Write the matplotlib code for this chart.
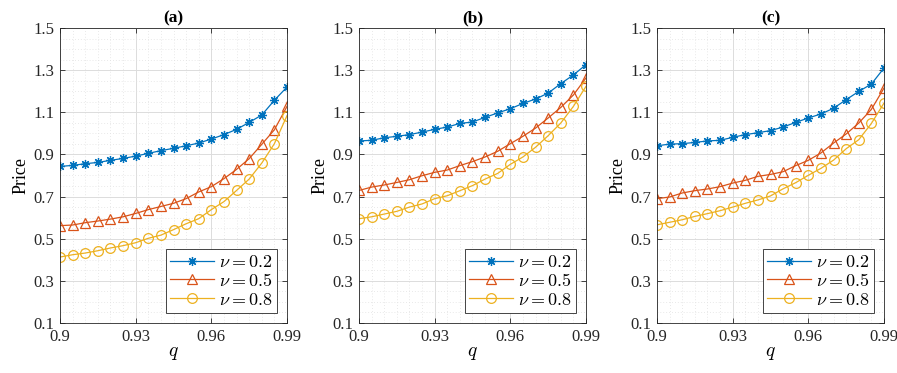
import numpy as np
import matplotlib
matplotlib.use("Agg")
import matplotlib.pyplot as plt
from matplotlib.ticker import MultipleLocator, FixedLocator

plt.rcParams['font.family'] = ['Liberation Serif', 'DejaVu Serif']
plt.rcParams['mathtext.fontset'] = 'cm'

q = [0.900, 0.905, 0.910, 0.915, 0.920, 0.925, 0.930, 0.935, 0.940, 0.945,
     0.950, 0.955, 0.960, 0.965, 0.970, 0.975, 0.980, 0.985, 0.990]

a_nu02 = [0.843, 0.848, 0.856, 0.862, 0.872, 0.881, 0.892, 0.905, 0.918, 0.929,
          0.941, 0.954, 0.973, 0.994, 1.019, 1.052, 1.087, 1.157, 1.220]
a_nu05 = [0.562, 0.565, 0.576, 0.584, 0.593, 0.604, 0.620, 0.638, 0.653, 0.668,
          0.690, 0.722, 0.747, 0.785, 0.829, 0.880, 0.948, 1.017, 1.128]
a_nu08 = [0.413, 0.424, 0.432, 0.443, 0.456, 0.467, 0.481, 0.502, 0.517, 0.543,
          0.571, 0.595, 0.638, 0.676, 0.729, 0.783, 0.859, 0.951, 1.084]

b_nu02 = [0.964, 0.967, 0.979, 0.986, 0.994, 1.006, 1.019, 1.030, 1.047, 1.054,
          1.076, 1.097, 1.117, 1.142, 1.163, 1.191, 1.236, 1.277, 1.326]
b_nu05 = [0.729, 0.745, 0.755, 0.767, 0.780, 0.799, 0.815, 0.826, 0.847, 0.866,
          0.888, 0.915, 0.951, 0.986, 1.025, 1.073, 1.123, 1.182, 1.263]
b_nu08 = [0.595, 0.604, 0.617, 0.630, 0.650, 0.665, 0.690, 0.704, 0.728, 0.752,
          0.783, 0.810, 0.853, 0.888, 0.934, 0.989, 1.049, 1.128, 1.223]

c_nu02 = [0.941, 0.949, 0.951, 0.957, 0.964, 0.967, 0.981, 0.994, 1.003, 1.013,
          1.030, 1.052, 1.073, 1.092, 1.119, 1.160, 1.199, 1.234, 1.310]
c_nu05 = [0.690, 0.698, 0.717, 0.728, 0.736, 0.747, 0.764, 0.777, 0.796, 0.805,
          0.818, 0.847, 0.872, 0.907, 0.954, 0.997, 1.049, 1.114, 1.215]
c_nu08 = [0.566, 0.578, 0.590, 0.606, 0.619, 0.633, 0.650, 0.668, 0.684, 0.703,
          0.737, 0.766, 0.801, 0.834, 0.873, 0.927, 0.970, 1.047, 1.144]

titles = ['(a)', '(b)', '(c)']
panels = [(a_nu02, a_nu05, a_nu08), (b_nu02, b_nu05, b_nu08), (c_nu02, c_nu05, c_nu08)]
labels = [r'$\nu = 0.2$', r'$\nu = 0.5$', r'$\nu = 0.8$']
xticks = [0.9, 0.93, 0.96, 0.99]
xticklabels = ['0.9', '0.93', '0.96', '0.99']
yticks = [0.1, 0.3, 0.5, 0.7, 0.9, 1.1, 1.3, 1.5]
yticklabels = ['0.1', '0.3', '0.5', '0.7', '0.9', '1.1', '1.3', '1.5']

colors = ['#0072BD', '#D95319', '#EDB120']
markers = [(8, 2, 0), '^', 'o']
msizes = [6.5, 7, 7]

W, H = 897, 373
fig = plt.figure(figsize=(W / 100, H / 100), dpi=100)
lefts = [60, 359, 657]
axw = 227
top, bottom = 28, 323

for i, (ttl, series) in enumerate(zip(titles, panels)):
    ax = fig.add_axes([lefts[i] / W, 1 - bottom / H, axw / W, (bottom - top) / H])
    for s, c, m, ms, lab in zip(series, colors, markers, msizes, labels):
        ax.plot(q, s, color=c, marker=m, ms=ms, lw=0.9, label=lab,
                mfc='none', mec=c, mew=0.9)
    ax.set_xlim(0.9, 0.99)
    ax.set_ylim(0.1, 1.5)
    ax.xaxis.set_major_locator(FixedLocator(xticks))
    ax.set_xticklabels(xticklabels)
    ax.yaxis.set_major_locator(FixedLocator(yticks))
    ax.set_yticklabels(yticklabels)
    ax.xaxis.set_minor_locator(MultipleLocator(0.005))
    ax.yaxis.set_minor_locator(MultipleLocator(0.05))
    ax.grid(True, which='major', color='#dcdcdc', lw=0.7)
    ax.grid(True, which='minor', color='#e2e2e2', lw=0.6, ls=(0, (1, 2.5)))
    ax.set_axisbelow(True)
    ax.tick_params(which='major', direction='in', top=True, right=True,
                   length=3.5, width=0.6, labelsize=12, colors='#262626',
                   labelcolor='#262626', pad=4)
    ax.tick_params(which='minor', length=0)
    for sp in ax.spines.values():
        sp.set_color('#262626')
        sp.set_linewidth(0.6)
    ax.set_title(ttl, fontsize=12.5, fontweight='bold', pad=4)
    ax.set_xlabel(r'$q$', fontsize=14, labelpad=0)
    ax.set_ylabel('Price', fontsize=13, labelpad=3)
    leg = ax.legend(loc='lower right', fontsize=13, frameon=True, fancybox=False,
                    edgecolor='#262626', framealpha=1, borderpad=0.25,
                    labelspacing=0.1, handlelength=2.4, handletextpad=0.3,
                    borderaxespad=0.55)
    leg.get_frame().set_linewidth(0.6)

fig.savefig('out.png', dpi=100)
